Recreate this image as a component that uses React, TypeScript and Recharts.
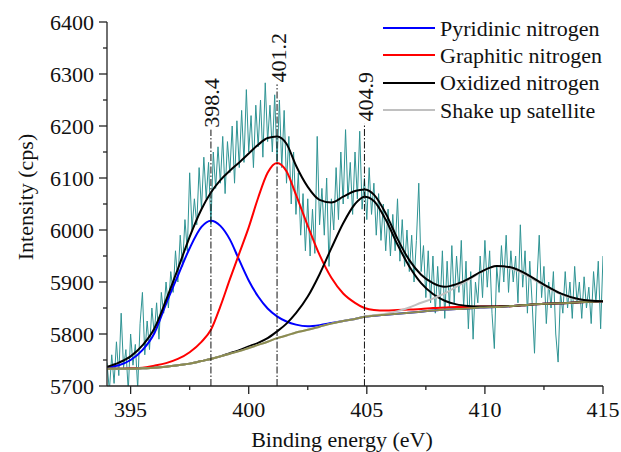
import React from 'react';
import { LineChart, Line, XAxis, YAxis, ReferenceLine } from 'recharts';

const FONT = 'Liberation Serif, DejaVu Serif, serif';

// raw scan, 394.0 .. 415.0 eV in 0.1 eV steps
const scanStart = 394;
const scanStep = 0.1;
const intensity = [
  5745, 5690, 5760, 5705, 5785, 5720, 5840, 5735, 5770, 5690,
  5800, 5740, 5780, 5695, 5820, 5880, 5760, 5825, 5770, 5850,
  5800, 5860, 5790, 5880, 5840, 5900, 5850, 5920, 5880, 5960,
  5900, 5990, 5930, 6020, 5960, 6110, 6000, 6060, 6010, 6120,
  6040, 6140, 6060, 6130, 6010, 6150, 6080, 6160, 6090, 6180,
  6070, 6170, 6110, 6200, 6090, 6210, 6120, 6230, 6130, 6270,
  6150, 6220, 6120, 6240, 6160, 6250, 6140, 6283, 6170, 6240,
  6150, 6260, 6130, 6250, 6120, 6230, 6090, 6180, 6050, 6150,
  6030, 6110, 5990, 6070, 5960, 6060, 5950, 6040, 5955, 6180,
  6010, 6080, 5990, 6100, 5930, 6060, 6000, 6120, 6020, 6150,
  6050, 6193, 6060, 6130, 6030, 6150, 6060, 6190, 6040, 6100,
  6020, 6120, 6030, 6090, 5990, 6070, 5980, 6050, 5960, 6040,
  5950, 6030, 5960, 6060, 5940, 6020, 5930, 6000, 5920, 5990,
  5900, 5980, 6090, 5920, 5970, 5870, 5960, 5860, 5950, 5840,
  5930, 5850, 5960, 5830, 5940, 5850, 5970, 5860, 5950, 5880,
  5980, 5850, 5940, 5810, 5920, 5790, 5900, 5860, 5950, 5870,
  5980, 5890, 5960, 5840, 5772, 5930, 5880, 5970, 5900, 5990,
  5880, 5960, 5900, 5950, 5860, 6010, 5890, 5960, 5840, 5940,
  5860, 5763, 5900, 5990, 5870, 5930, 5820, 5900, 5850, 5920,
  5800, 5746, 5880, 5840, 5920, 5850, 5900, 5830, 5930, 5860,
  5900, 5830, 5910, 5850, 5890, 5820, 5920, 5860, 5940, 5810,
  5950,
];

// fitted components
const fitEnergy = [
  394, 394.5, 395, 395.5, 396, 396.5, 397, 397.5, 398, 398.4, 398.8, 399.2, 399.6, 400,
  400.4, 400.8, 401.2, 401.6, 402, 402.5, 403, 403.5, 404, 404.5, 404.9, 405.3, 405.8,
  406.3, 406.8, 407.3, 407.8, 408.3, 408.8, 409.3, 409.8, 410.5, 411.2, 411.8, 412.5,
  413.2, 414, 415,
];
const background = [
  5733, 5733, 5733, 5734, 5735, 5737, 5740, 5743, 5748, 5752, 5757, 5762, 5767, 5773,
  5779, 5785, 5792, 5797, 5803, 5808, 5814, 5820, 5825, 5829, 5833, 5835, 5837,
  5839, 5841, 5843, 5845, 5847, 5848, 5849, 5851, 5852, 5854, 5856, 5858,
  5859, 5861, 5863,
];
const pyridinic = [
  5736, 5740, 5750, 5769, 5801, 5858, 5912, 5965, 6006, 6018, 6008, 5982, 5942, 5903,
  5872, 5849, 5834, 5824, 5818, 5815, 5817, 5821, 5825, 5829, 5833, 5835, 5837,
  5839, 5841, 5843, 5845, 5847, 5848, 5849, 5851, 5852, 5854, 5856, 5858,
  5859, 5861, 5863,
];
const graphitic = [
  5733, 5733, 5734, 5735, 5739, 5744, 5752, 5765, 5785, 5808, 5853, 5905, 5955, 6005,
  6062, 6110, 6129, 6113, 6068, 6008, 5952, 5908, 5878, 5860, 5850, 5846, 5845,
  5846, 5847, 5848, 5850, 5851, 5852, 5852, 5853, 5853, 5854, 5856, 5858,
  5859, 5861, 5863,
];
const oxidized = [
  5733, 5733, 5733, 5734, 5735, 5737, 5740, 5743, 5748, 5752, 5757, 5763, 5769, 5776,
  5783, 5792, 5805, 5820, 5840, 5872, 5915, 5965, 6013, 6050, 6064, 6056, 6020,
  5972, 5930, 5898, 5877, 5864, 5857, 5854, 5853, 5853, 5854, 5856, 5858,
  5859, 5861, 5863,
];
const satellite = [
  5733, 5733, 5733, 5734, 5735, 5737, 5740, 5743, 5748, 5752, 5757, 5762, 5767, 5773,
  5779, 5785, 5792, 5797, 5803, 5808, 5814, 5820, 5825, 5829, 5833, 5836, 5839,
  5844, 5851, 5860, 5868, 5878, 5891, 5904, 5918, 5931, 5925, 5912, 5893,
  5877, 5866, 5863,
];
const envelope = [
  5737, 5745, 5757, 5778, 5810, 5865, 5925, 5987, 6040, 6072, 6096, 6114, 6130, 6147,
  6164, 6177, 6180, 6166, 6124, 6083, 6058, 6053, 6064, 6075, 6078, 6068, 6032,
  5983, 5942, 5914, 5898, 5891, 5896, 5906, 5919, 5931, 5927, 5914, 5895,
  5878, 5867, 5863,
];

const peakPositions = [398.4, 401.2, 404.9];
const peakLineTops = [6193, 6280, 6205];

const xTicks = [395, 397.5, 400, 402.5, 405, 407.5, 410, 412.5, 415];
const yTicks = [5700, 5750, 5800, 5850, 5900, 5950, 6000, 6050, 6100, 6150, 6200, 6250, 6300, 6350, 6400];

const legendItems = [
  { name: 'Pyridinic nitrogen', color: '#0000ff' },
  { name: 'Graphitic nitrogen', color: '#ff0000' },
  { name: 'Oxidized nitrogen', color: '#000000' },
  { name: 'Shake up satellite', color: '#c0c0c0' },
];

const scan = intensity.map((y, i) => ({ x: +(scanStart + i * scanStep).toFixed(1), y }));
const fit = (vals: number[]) => fitEnergy.map((x, i) => ({ x, y: vals[i] }));

const YTick = (props: any) => {
  const { x, y, payload } = props;
  const major = payload.value % 100 === 0;
  return (
    <g>
      <line x1={x - (major ? 8 : 4)} x2={x} y1={y} y2={y} stroke="#222" strokeWidth={1.3} />
      {major && (
        <text x={x - 13} y={y} dy="0.35em" textAnchor="end" fontSize={22} fontFamily={FONT} fill="#111">
          {payload.value}
        </text>
      )}
    </g>
  );
};

const XTick = (props: any) => {
  const { x, y, payload } = props;
  const major = payload.value % 5 === 0;
  return (
    <g>
      <line x1={x} x2={x} y1={y} y2={y + (major ? 8 : 4)} stroke="#222" strokeWidth={1.3} />
      {major && (
        <text x={x} y={y + 31} textAnchor="middle" fontSize={22} fontFamily={FONT} fill="#111">
          {payload.value}
        </text>
      )}
    </g>
  );
};

const PeakLabel = ({ viewBox, text }: any) => {
  if (!viewBox) return null;
  const x = viewBox.x + 8.5;
  const y = viewBox.y - 2;
  return (
    <text x={x} y={y} transform={`rotate(-90, ${x}, ${y})`} fontSize={22} fontFamily={FONT} fill="#111">
      {text}
    </text>
  );
};

export default function App() {
  return (
    <div style={{ position: 'absolute', left: 0, top: 0, width: 621, height: 452, background: '#fff', fontFamily: FONT }}>
      <LineChart width={621} height={452} margin={{ top: 22, right: 18, bottom: 0, left: 0 }} style={{ fontFamily: FONT }}>
        <XAxis
          type="number"
          dataKey="x"
          domain={[394, 415]}
          ticks={xTicks}
          interval={0}
          allowDataOverflow
          height={66}
          tickSize={0}
          tickMargin={0}
          tick={<XTick />}
          axisLine={{ stroke: '#222', strokeWidth: 1.3 }}
          label={{
            content: () => (
              <text x={342} y={447} textAnchor="middle" fontSize={22} fontFamily={FONT} fill="#111">
                Binding energy (eV)
              </text>
            ),
          }}
        />
        <YAxis
          type="number"
          domain={[5700, 6400]}
          ticks={yTicks}
          interval={0}
          allowDataOverflow
          width={107}
          tickSize={0}
          tickMargin={0}
          tick={<YTick />}
          axisLine={{ stroke: '#222', strokeWidth: 1.3 }}
          label={{
            content: () => (
              <text x={33} y={197} transform="rotate(-90, 33, 197)" textAnchor="middle" fontSize={22} fontFamily={FONT} fill="#111">
                Intensity (cps)
              </text>
            ),
          }}
        />
        <Line data={scan} dataKey="y" type="linear" stroke="#2f9494" strokeWidth={1} dot={false} activeDot={false} isAnimationActive={false} />
        <Line data={fit(pyridinic)} dataKey="y" type="monotone" stroke="#0000ff" strokeWidth={2} dot={false} activeDot={false} isAnimationActive={false} />
        <Line data={fit(graphitic)} dataKey="y" type="monotone" stroke="#ff0000" strokeWidth={2} dot={false} activeDot={false} isAnimationActive={false} />
        <Line data={fit(oxidized)} dataKey="y" type="monotone" stroke="#000000" strokeWidth={2} dot={false} activeDot={false} isAnimationActive={false} />
        <Line data={fit(satellite)} dataKey="y" type="monotone" stroke="#c0c0c0" strokeWidth={2} dot={false} activeDot={false} isAnimationActive={false} />
        <Line data={fit(background)} dataKey="y" type="monotone" stroke="#8c8c50" strokeWidth={2} dot={false} activeDot={false} isAnimationActive={false} />
        <Line data={fit(envelope)} dataKey="y" type="monotone" stroke="#000000" strokeWidth={2} dot={false} activeDot={false} isAnimationActive={false} />
        {peakPositions.map((p, i) => (
          <ReferenceLine
            key={p}
            segment={[{ x: p, y: 5700 }, { x: p, y: peakLineTops[i] }]}
            stroke="#111"
            strokeWidth={1}
            strokeDasharray="7 2 1.5 2"
            label={(props: any) => <PeakLabel viewBox={props.viewBox} text={String(p)} />}
          />
        ))}
      </LineChart>
      <div style={{ position: 'absolute', left: 383, top: 14.5, fontFamily: FONT, fontSize: 22, color: '#111' }}>
        {legendItems.map((item) => (
          <div key={item.name} style={{ display: 'flex', alignItems: 'center', height: 27.3, whiteSpace: 'nowrap' }}>
            <span style={{ display: 'inline-block', width: 52, height: 2, background: item.color }} />
            <span style={{ marginLeft: 5, lineHeight: '27px' }}>{item.name}</span>
          </div>
        ))}
      </div>
    </div>
  );
}
